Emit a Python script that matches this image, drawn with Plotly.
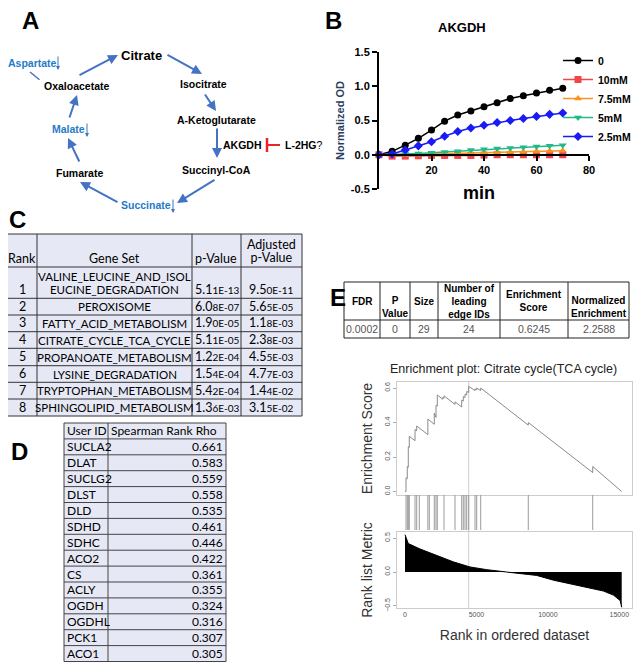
import plotly.graph_objects as go

# the page body adds an 8px margin, so the figure is laid out 8px in from the window edge
OFF = 8
W, H = 642 - OFF, 670 - 2 * OFF
ARIAL = "Liberation Sans"
CALIBRI = "Lato"

# ---------------- panel B: AKGDH activity vs L-2HG ----------------
minutes = [0, 5, 10, 15, 20, 25, 30, 35, 40, 45, 50, 55, 60, 65, 70]
od_0mM = [0.0, 0.05, 0.14, 0.24, 0.36, 0.49, 0.58, 0.64, 0.70, 0.76, 0.82, 0.86, 0.90, 0.94, 0.97]
od_10mM = [0.0, -0.02, -0.02, -0.015, -0.01, -0.01, -0.01, -0.01, -0.005, 0.0, 0.0, 0.0, 0.0, 0.0, 0.0]
od_7_5mM = [0.0, 0.0, 0.0, 0.005, 0.01, 0.015, 0.02, 0.025, 0.03, 0.035, 0.04, 0.045, 0.05, 0.055, 0.06]
od_5mM = [0.0, 0.0, 0.01, 0.02, 0.03, 0.04, 0.05, 0.07, 0.08, 0.09, 0.10, 0.11, 0.12, 0.13, 0.14]
od_2_5mM = [0.0, 0.01, 0.07, 0.13, 0.19, 0.27, 0.34, 0.39, 0.43, 0.47, 0.50, 0.53, 0.56, 0.59, 0.61]

# ---------------- panel C: pathway enrichment ----------------
rank_c = [1, 2, 3, 4, 5, 6, 7, 8]
gene_sets = ["VALINE_LEUCINE_AND_ISOLEUCINE_DEGRADATION", "PEROXISOME", "FATTY_ACID_METABOLISM",
             "CITRATE_CYCLE_TCA_CYCLE", "PROPANOATE_METABOLISM", "LYSINE_DEGRADATION",
             "TRYPTOPHAN_METABOLISM", "SPHINGOLIPID_METABOLISM"]
p_values = ["5.11E-13", "6.08E-07", "1.90E-05", "5.11E-05", "1.22E-04", "1.54E-04", "5.42E-04", "1.36E-03"]
adj_p_values = ["9.50E-11", "5.65E-05", "1.18E-03", "2.38E-03", "4.55E-03", "4.77E-03", "1.44E-02", "3.15E-02"]

# ---------------- panel D: Spearman correlation ----------------
user_ids = ["SUCLA2", "DLAT", "SUCLG2", "DLST", "DLD", "SDHD", "SDHC", "ACO2", "CS", "ACLY",
            "OGDH", "OGDHL", "PCK1", "ACO1"]
spearman_rho = [0.661, 0.583, 0.559, 0.558, 0.535, 0.461, 0.446, 0.422, 0.361, 0.355,
                0.324, 0.316, 0.307, 0.305]

# ---------------- panel E: GSEA ----------------
gsea_header = ["FDR", "P<br>Value", "Size", "Number of<br>leading<br>edge IDs", "Enrichment<br>Score",
               "Normalized<br>Enrichment"]
gsea_values = ["0.0002", "0", "29", "24", "0.6245", "2.2588"]

es_rank = [0, 70, 70, 160, 160, 230, 230, 300, 300, 700, 700, 820, 820, 1600, 1600, 2050, 2050,
           2170, 2170, 2260, 2260, 2640, 2640, 2730, 2730, 3500, 3500, 3970, 3970, 4080, 4080,
           4200, 4200, 4320, 4320, 4460, 4460, 4900, 4900, 5020, 5020, 5300, 5300, 8630, 8630,
           13140, 13140, 15170]
es_value = [0.0, 0.0, 0.08, 0.075, 0.145, 0.14, 0.26, 0.255, 0.32, 0.295, 0.36, 0.352, 0.38,
            0.33, 0.42, 0.39, 0.455, 0.43, 0.50, 0.495, 0.56, 0.535, 0.545, 0.54, 0.555, 0.505,
            0.52, 0.49, 0.53, 0.525, 0.55, 0.545, 0.565, 0.56, 0.58, 0.575, 0.61, 0.585, 0.595,
            0.59, 0.60, 0.585, 0.60, 0.385, 0.40, 0.11, 0.145, 0.0]
hit_ranks = [70, 160, 230, 300, 700, 820, 1000, 1600, 1700, 2050, 2170, 2260, 2730, 3500, 3970,
             4080, 4200, 4320, 4460, 4900, 5020, 5300, 8630, 13140]
peak_rank = 4460
metric_rank = [0, 70, 230, 1050, 2220, 3380, 4550, 5720, 7120, 9220, 10390, 12720, 13890, 14590,
               15060, 15170]
metric_value = [0.55, 0.5, 0.42, 0.34, 0.245, 0.15, 0.075, 0.035, 0.0, -0.05, -0.12, -0.22, -0.28,
                -0.34, -0.42, -0.52]


def px_x(v):
    return (v - OFF) / W


def px_y(v):
    return 1 - (v - OFF) / H


fig = go.Figure()


def label(x, y, text, font, **kw):
    fig.add_annotation(x=px_x(x), y=px_y(y), xref="paper", yref="paper", text=text,
                       showarrow=False, xanchor=kw.pop("xanchor", "center"),
                       yanchor=kw.pop("yanchor", "middle"), font=font, **kw)


def draw_table(cols, rows, cells, fill, line_color, font, aligns, valigns, line_h):
    """cols/rows are pixel edges; cells is a list of rows of text."""
    fig.add_shape(type="rect", xref="paper", yref="paper", x0=px_x(cols[0]), x1=px_x(cols[-1]),
                  y0=px_y(rows[-1]), y1=px_y(rows[0]), fillcolor=fill, line=dict(width=0),
                  layer="below")
    for c in cols:
        fig.add_shape(type="line", xref="paper", yref="paper", x0=px_x(c), x1=px_x(c),
                      y0=px_y(rows[-1]), y1=px_y(rows[0]), line=dict(color=line_color, width=1))
    for r in rows:
        fig.add_shape(type="line", xref="paper", yref="paper", x0=px_x(cols[0]), x1=px_x(cols[-1]),
                      y0=px_y(r), y1=px_y(r), line=dict(color=line_color, width=1))
    for i, row in enumerate(cells):
        f = font[i] if isinstance(font, list) else font
        for j, text in enumerate(row):
            x0, x1 = cols[j], cols[j + 1]
            y0, y1 = rows[i], rows[i + 1]
            al = aligns[i][j] if isinstance(aligns[0], list) else aligns[j]
            va = valigns[i][j] if isinstance(valigns[0], list) else valigns[j]
            if al == "left":
                x, xa = x0 + 2, "left"
            elif al == "right":
                x, xa = x1 - 2, "right"
            else:
                x, xa = (x0 + x1) / 2, "center"
            n = text.count("<br>") + 1
            y = y1 - 1 - n * line_h / 2 if va == "bottom" else (y0 + y1) / 2
            label(x, y, text, f, xanchor=xa, align=al, borderpad=0)


# ---------------- panel A: TCA cycle diagram (hidden pixel axes) ----------------
BLUE_ARROW = "#4472C4"
BLUE_TEXT = "#1F7BC8"
nodes = [
    ("Citrate", 141, 55, 13, "black"),
    ("Isocitrate", 203, 84, 10.5, "black"),
    ("A-Ketoglutarate", 216, 120, 10.5, "black"),
    ("Succinyl-CoA", 216, 170, 10.5, "black"),
    ("Fumarate", 79, 173, 10.5, "black"),
    ("Oxaloacetate", 77, 86, 10.5, "black"),
    ("AKGDH", 242, 145, 10.5, "black"),
    ("Aspartate", 32, 63, 10.5, BLUE_TEXT),
    ("Malate", 68, 129, 10.5, BLUE_TEXT),
    ("Succinate", 146, 205, 10.5, BLUE_TEXT),
]
for name, x, y, size, color in nodes:
    fig.add_annotation(x=x, y=y, xref="x6", yref="y6", text=f"<b>{name}</b>", showarrow=False,
                       xanchor="center", yanchor="middle",
                       font=dict(family=ARIAL, size=size, color=color))
fig.add_annotation(x=283, y=145, xref="x6", yref="y6", text="<b>L-2HG</b>?", showarrow=False,
                   xanchor="left", yanchor="middle", font=dict(family=ARIAL, size=10.5, color="black"))

cycle_arrows = [
    ((78, 76), (118, 55)), ((166, 54), (202, 74)), ((204, 93), (216, 111)),
    ((217, 127), (217, 158)), ((216, 179), (177, 203)), ((119, 203), (80, 182)),
    ((80, 163), (68, 138)), ((69, 119), (77, 95)),
]
for (x0, y0), (x1, y1) in cycle_arrows:
    fig.add_annotation(x=x1, y=y1, ax=x0, ay=y0, xref="x6", yref="y6", axref="x6", ayref="y6",
                       text="", showarrow=True, arrowhead=2, arrowsize=1, arrowwidth=2,
                       arrowcolor=BLUE_ARROW)
fig.add_annotation(x=30, y=72, ax=41, ay=81, xref="x6", yref="y6", axref="x6", ayref="y6",
                   text="", showarrow=True, arrowhead=0, arrowwidth=1.5, arrowcolor=BLUE_ARROW)
for x, y0 in [(58, 55), (87, 122), (173, 198)]:
    fig.add_annotation(x=x, y=y0 + 15, ax=x, ay=y0, xref="x6", yref="y6", axref="x6", ayref="y6",
                       text="", showarrow=True, arrowhead=2, arrowsize=0.8, arrowwidth=1,
                       arrowcolor=BLUE_ARROW)
fig.add_shape(type="line", xref="x6", yref="y6", x0=267, x1=267, y0=138, y1=152,
              line=dict(color="#E8262A", width=2.5))
fig.add_shape(type="line", xref="x6", yref="y6", x0=267, x1=280, y0=145, y1=145,
              line=dict(color="#E8262A", width=2))

# ---------------- panel B traces ----------------
series = [
    ("0", od_0mM, "black", "circle"),
    ("10mM", od_10mM, "#F2454A", "square"),
    ("7.5mM", od_7_5mM, "#F7931E", "triangle-up"),
    ("5mM", od_5mM, "#20B98A", "triangle-down"),
    ("2.5mM", od_2_5mM, "#1A1AF5", "diamond"),
]
for i, (name, ys, color, symbol) in enumerate(series):
    fig.add_trace(go.Scatter(
        x=minutes, y=ys, name=f"<b>{name}</b>", mode="lines+markers", legendrank=i + 1,
        line=dict(color=color, width=1.5), marker=dict(symbol=symbol, size=7, color=color),
        cliponaxis=False, xaxis="x", yaxis="y",
    ))

# ---------------- panel C table ----------------
def split_name(s, n=23):
    return s if len(s) <= n else s[:n] + "<br>" + s[n:]


def sci(s):
    return f"<span style='font-size:12.5px'>{s[:3]}</span>{s[3:]}"


cal = dict(family=CALIBRI, size=10, color="black")
cells_c = [[f"<span style='font-size:12.5px'>{h}</span>"
            for h in ["Rank", "Gene Set", "p-Value", "Adjusted<br>p-Value"]]]
for r, g, p, a in zip(rank_c, gene_sets, p_values, adj_p_values):
    cells_c.append([f"<span style='font-size:12.5px'>{r}</span>",
                    f"<span style='font-size:11.5px'>{split_name(g)}</span>", sci(p), sci(a)])
valign_c = [["bottom"] * 4] + [["bottom", "middle", "bottom", "bottom"]] * len(rank_c)
draw_table([7, 37, 192, 241, 302],
           [234, 267, 298.3, 315, 331.7, 348.3, 365.7, 382.3, 399, 416],
           cells_c, "#E6E9F5", "#333333", cal,
           ["center", "center", "left", "center"], valign_c, 15.5)

# ---------------- panel D table ----------------
cal_d = dict(family=CALIBRI, size=12, color="black")
cells_d = [["User ID", "Spearman Rank Rho"]] + [[u, f"{v:.3f}"] for u, v in zip(user_ids, spearman_rho)]
aligns_d = [["left", "left"]] + [["left", "right"]] * len(user_ids)
draw_table([64, 108, 226], [423 + 15.9 * i for i in range(len(user_ids) + 2)],
           cells_d, "#E6E9F5", "#444444", cal_d, aligns_d, ["middle", "middle"], 15)

# ---------------- panel E table ----------------
font_e = [dict(family=ARIAL, size=10, color="black"), dict(family=ARIAL, size=10.5, color="#555555")]
cells_e = [[f"<b>{h}</b>" for h in gsea_header], gsea_values]
valign_e = [["middle", "bottom", "middle", "middle", "middle", "bottom"], ["middle"] * 6]
draw_table([344, 380, 410, 438, 500, 568, 629], [282, 320, 338], cells_e, "white", "#222222",
           font_e, ["center"] * 6, valign_e, 12.5)

# ---------------- panel E enrichment plot ----------------
fig.add_trace(go.Scatter(x=es_rank, y=es_value, mode="lines", line=dict(color="#8a8a8a", width=1),
                         showlegend=False, xaxis="x3", yaxis="y3"))
hx, hy = [], []
for r in hit_ranks:
    hx += [r, r, None]
    hy += [0, 1, None]
fig.add_trace(go.Scatter(x=hx, y=hy, mode="lines", line=dict(color="#9a9a9a", width=1),
                         showlegend=False, xaxis="x4", yaxis="y4"))
fig.add_trace(go.Scatter(x=metric_rank, y=metric_value, mode="lines", fill="tozeroy",
                         fillcolor="black", line=dict(color="black", width=1),
                         showlegend=False, xaxis="x5", yaxis="y5"))
fig.add_shape(type="line", xref="x3", yref="paper", x0=peak_rank, x1=peak_rank,
              y0=px_y(608), y1=px_y(382), line=dict(color="#cfcfcf", width=1), layer="below")

# ---------------- text labels ----------------
for letter, x, y in [("A", 30, 21), ("B", 333, 21), ("C", 17, 219), ("D", 19, 451), ("E", 338, 298)]:
    label(x, y, f"<b>{letter}</b>", dict(family=ARIAL, size=24, color="black"))
label(462, 28, "<b>AKGDH</b>", dict(family=ARIAL, size=13, color="black"))
label(503, 369, "Enrichment plot: Citrate cycle(TCA cycle)",
      dict(family=ARIAL, size=12.5, color="#222222"))
label(479, 193, "<b>min</b>", dict(family=ARIAL, size=18, color="black"))

# ---------------- axes ----------------
b_ymin, b_ymax = -0.5, 1.5
b_dom = [px_y(189), px_y(52)]
x_axis_pos = b_dom[0] + (0 - b_ymin) / (b_ymax - b_ymin) * (b_dom[1] - b_dom[0])
tickfont_b = dict(family=ARIAL, size=11, color="black")
hidden = dict(visible=False, showgrid=False, zeroline=False, automargin=False)
grey_tick = dict(family=ARIAL, size=7, color="#555555")
es_x = dict(domain=[px_x(397), px_x(632)], range=[-560, 15890], showgrid=False, zeroline=False,
            automargin=False)

fig.update_layout(
    width=W, height=H, margin=dict(l=0, r=0, t=0, b=0, autoexpand=False),
    paper_bgcolor="white", plot_bgcolor="rgba(0,0,0,0)",
    xaxis=dict(domain=[px_x(379), px_x(589)], range=[0, 80], anchor="free", position=x_axis_pos,
               tickvals=[20, 40, 60, 80], ticktext=["<b>20</b>", "<b>40</b>", "<b>60</b>", "<b>80</b>"],
               ticks="outside", ticklen=5, tickwidth=2, tickcolor="black", showline=True,
               linecolor="black", linewidth=2, showgrid=False, zeroline=False,
               tickfont=tickfont_b, automargin=False),
    yaxis=dict(domain=b_dom, range=[b_ymin, b_ymax], anchor="x",
               tickvals=[-0.5, 0, 0.5, 1.0, 1.5],
               ticktext=["<b>-0.5</b>", "<b>0.0</b>", "<b>0.5</b>", "<b>1.0</b>", "<b>1.5</b>"],
               ticks="outside", ticklen=5, tickwidth=2, tickcolor="black", showline=True,
               linecolor="black", linewidth=2, showgrid=False, zeroline=False,
               tickfont=tickfont_b, automargin=False,
               title=dict(text="<b>Normalized OD</b>", font=dict(family=ARIAL, size=11), standoff=4)),
    xaxis3=dict(**es_x, anchor="y3", showticklabels=False, ticks="", showline=True, mirror=True,
                linecolor="#cccccc"),
    yaxis3=dict(domain=[px_y(495), px_y(382)], range=[-0.02, 0.635], anchor="x3",
                tickvals=[0, 0.2, 0.4, 0.6], tickformat=".1f", tickangle=-90, tickfont=grey_tick,
                ticks="outside", ticklen=3, tickcolor="#aaaaaa", showline=True, mirror=True,
                linecolor="#cccccc", showgrid=False, zeroline=False, automargin=False,
                title=dict(text="Enrichment Score", font=dict(family=ARIAL, size=14, color="#333333"),
                           standoff=8)),
    xaxis4=dict(domain=[px_x(397), px_x(632)], range=[-560, 15890], anchor="y4", **hidden),
    yaxis4=dict(domain=[px_y(530), px_y(495)], range=[0, 1], anchor="x4", **hidden),
    xaxis5=dict(**es_x, anchor="y5", tickvals=[0, 5000, 10000, 15000],
                ticktext=["0", "5000", "10000", "15000"], tickfont=grey_tick, ticks="",
                showline=True, mirror=True, linecolor="#cccccc",
                title=dict(text="Rank in ordered dataset",
                           font=dict(family=ARIAL, size=14, color="#333333"), standoff=12)),
    yaxis5=dict(domain=[px_y(608), px_y(532)], range=[-0.53, 0.59], anchor="x5",
                tickvals=[-0.5, 0, 0.5], tickformat=".1f", tickangle=-90, tickfont=grey_tick,
                ticks="outside", ticklen=3, tickcolor="#aaaaaa", showline=True, mirror=True,
                linecolor="#cccccc", showgrid=False, zeroline=False, automargin=False,
                title=dict(text="Rank list Metric", font=dict(family=ARIAL, size=14, color="#333333"),
                           standoff=8)),
    xaxis6=dict(domain=[0, px_x(320)], range=[OFF, 320], anchor="y6", **hidden),
    yaxis6=dict(domain=[px_y(220), 1], range=[220, OFF], anchor="x6", **hidden),
    legend=dict(x=px_x(558), y=px_y(46), xanchor="left", yanchor="top", itemwidth=30,
                font=dict(family=ARIAL, size=10.5, color="black"), bgcolor="rgba(0,0,0,0)",
                tracegroupgap=0),
)

fig.write_html("out.html")
